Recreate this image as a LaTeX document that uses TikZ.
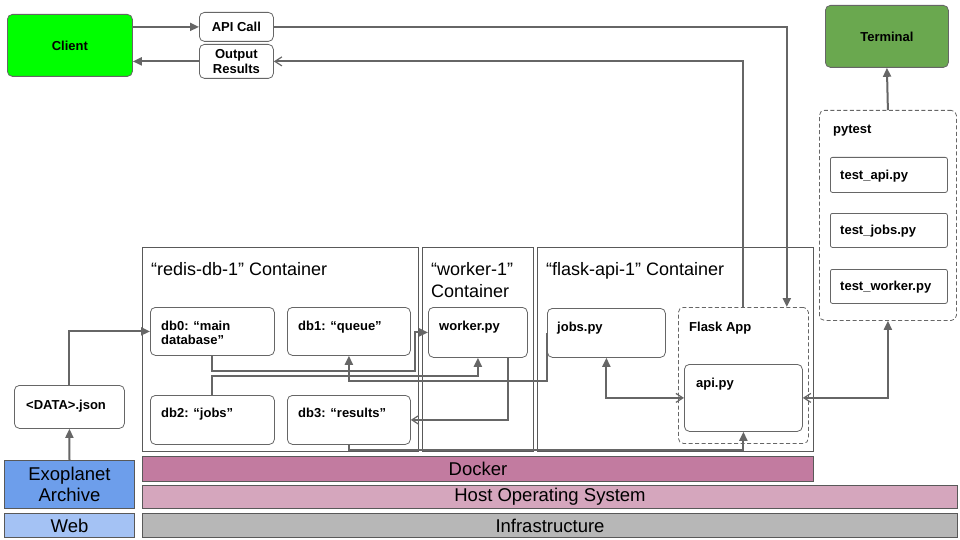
\documentclass[tikz,border=0pt]{standalone}
\usepackage{fontspec}
\setmainfont{Liberation Sans}
\usetikzlibrary{arrows.meta,calc}
\definecolor{ln}{HTML}{666666}
\definecolor{bd}{HTML}{595959}
\definecolor{clientgreen}{HTML}{00FF00}
\definecolor{termgreen}{HTML}{6AA84F}
\definecolor{exoblue}{HTML}{6D9EEB}
\definecolor{webblue}{HTML}{A4C2F4}
\definecolor{dockerpink}{HTML}{C27BA0}
\definecolor{hostpink}{HTML}{D5A6BD}
\definecolor{infragray}{HTML}{B7B7B7}
\begin{document}
\begin{tikzpicture}[x=1pt,y=-1pt,
  box/.style={draw=ln, line width=0.8pt, rounded corners=5pt, fill=white, inner sep=0pt, anchor=north west},
  dbox/.style={box, dash pattern=on 4pt off 2.5pt},
  cont/.style={draw=bd, line width=0.8pt, inner sep=0pt, anchor=north west},
  layer/.style={draw=bd, line width=1pt, inner sep=0pt, anchor=north west, align=center, font=\fontsize{18.5}{21}\selectfont},
  bt/.style={font=\bfseries\fontsize{13}{15.5}\selectfont, align=center},
  lbl/.style={font=\bfseries\fontsize{13}{14}\selectfont, inner sep=0pt, anchor=base west},
  ttl/.style={font=\fontsize{18}{22}\selectfont, inner sep=0pt, anchor=base west},
  con/.style={draw=ln, line width=2pt},
  fa/.style={-{Triangle[length=9pt,width=8pt]}},
  oa/.style={-{Straight Barb[length=7pt,width=9pt,line width=1.2pt]}}
]
\useasboundingbox (0,0) rectangle (960,540);

% top row
\node[box, fill=clientgreen, minimum width=125pt, minimum height=62pt, bt] (client) at (7,14) {};
\node[bt, inner sep=0pt] (clientt) at (client.center) {Client};
\node[box, minimum width=74pt, minimum height=29pt] (api) at (199,12) {};
\node[bt, inner sep=0pt] (apit) at (api.center) {API Call};
\node[box, minimum width=74pt, minimum height=34pt] (out) at (199,44) {};
\node[bt, inner sep=0pt] (outt) at (out.center) {Output\\Results};
\node[box, fill=termgreen, minimum width=123pt, minimum height=62pt] (term) at (825,5) {};
\node[bt, inner sep=0pt] (termt) at (term.center) {Terminal};

% pytest
\node[dbox, minimum width=137pt, minimum height=210pt] (pytest) at (819,110) {};
\node[lbl] (pytestt) at (833,134) {pytest};
\node[box, rounded corners=2pt, minimum width=117pt, minimum height=35pt] (tapi) at (830,157) {};
\node[lbl] (tapit) at (840,179) {test\_api.py};
\node[box, rounded corners=2pt, minimum width=117pt, minimum height=34pt] (tjobs) at (830,213) {};
\node[lbl] (tjobst) at (840,234.5) {test\_jobs.py};
\node[box, rounded corners=2pt, minimum width=117pt, minimum height=34pt] (twork) at (830,269) {};
\node[lbl] (tworkt) at (840,290.5) {test\_worker.py};

% containers
\node[cont, minimum width=276pt, minimum height=204pt] (redis) at (142,247) {};
\node[ttl] (redist) at (151,275) {“redis-db-1” Container};
\node[cont, minimum width=111pt, minimum height=204pt] (workc) at (422,247) {};
\node[font=\fontsize{18}{22}\selectfont, inner sep=0pt, anchor=north west, align=left] (workct) at (431,262) {“worker-1”\\Container};
\node[cont, minimum width=276pt, minimum height=204pt] (flaskc) at (537,247) {};
\node[ttl] (flaskct) at (546,275) {“flask-api-1” Container};

% redis dbs
\node[box, minimum width=124pt, minimum height=48pt] (db0) at (150,307) {};
\node[font=\bfseries\fontsize{13}{14}\selectfont, inner sep=0pt, anchor=north west, align=left] (db0t) at (161,320.5) {db0: “main\\database”};
\node[box, minimum width=123pt, minimum height=48pt] (db1) at (287,307) {};
\node[lbl] (db1t) at (298,330) {db1: “queue”};
\node[box, minimum width=124pt, minimum height=49pt] (db2) at (150,395) {};
\node[lbl] (db2t) at (161,417) {db2: “jobs”};
\node[box, minimum width=123pt, minimum height=49pt] (db3) at (287,395) {};
\node[lbl] (db3t) at (298,417) {db3: “results”};

% worker
\node[box, minimum width=99pt, minimum height=50pt] (worker) at (428,307) {};
\node[lbl] (workert) at (439,330) {worker.py};

% flask
\node[box, minimum width=118pt, minimum height=49pt] (jobs) at (547,308) {};
\node[lbl] (jobst) at (557,331) {jobs.py};
\node[dbox, minimum width=130pt, minimum height=136pt] (flask) at (678,307) {};
\node[lbl] (flaskt) at (689,331) {Flask App};
\node[box, minimum width=118pt, minimum height=67pt] (apipy) at (684,364) {};
\node[lbl] (apipyt) at (696,387) {api.py};

% data
\node[box, minimum width=110pt, minimum height=43pt] (data) at (14,385) {};
\node[lbl] (datat) at (26,409) {<DATA>.json};

% layers
\node[layer, fill=exoblue, minimum width=130pt, minimum height=48pt] (exo) at (4,460) {};
\node[font=\fontsize{18.5}{21}\selectfont, align=center, inner sep=0pt] (exot) at (exo.center) {Exoplanet\\Archive};
\node[layer, fill=webblue, minimum width=130pt, minimum height=24pt] (web) at (4,513) {};
\node[font=\fontsize{18.5}{21}\selectfont, inner sep=0pt] (webt) at (web.center) {Web};
\node[layer, fill=dockerpink, minimum width=671pt, minimum height=25pt] (docker) at (142,456) {};
\node[font=\fontsize{18.5}{21}\selectfont, inner sep=0pt] (dockert) at (docker.center) {Docker};
\node[layer, fill=hostpink, minimum width=815pt, minimum height=23pt] (host) at (142,485) {};
\node[font=\fontsize{18.5}{21}\selectfont, inner sep=0pt] (hostt) at (host.center) {Host Operating System};
\node[layer, fill=infragray, minimum width=815pt, minimum height=24pt] (infra) at (142,513) {};
\node[font=\fontsize{18.5}{21}\selectfont, inner sep=0pt] (infrat) at (infra.center) {Infrastructure};

% connectors
\draw[con, fa] (client.east |- api.west) -- (api.west);
\draw[con, fa] (out.west) -- (client.east |- out.west);
\draw[con, fa] (api.east) -| ($(flask.north east)+(-22,0)$);
\draw[con, oa] (flask.north) |- (out.east);
\draw[con, fa] (pytest.north) -- (term.south);
\draw[con, {Straight Barb[length=7pt,width=9pt,line width=1.2pt]}-{Triangle[length=9pt,width=8pt]}] (apipy.east) -| (pytest.south);
\draw[con, fa] (exo.north) -- (data.south);
\draw[con, fa] (data.north) |- (db0.west);
\draw[con, fa] (db0.south) -- ++(0,15) -- ++(203,0) |- (worker.west);
\draw[con, fa] (db2.north) -- ++(0,-19) -| (worker.south);
\draw[con, fa] (jobs.west) -- ++(0,48) -| (db1.south);
\draw[con, oa] ([xshift=30pt]worker.south) |- (db3.east);
\draw[con, fa] (db3.south) -- ++(0,5) -| (apipy.south);
\draw[con, {Triangle[length=9pt,width=8pt]}-{Straight Barb[length=7pt,width=9pt,line width=1.2pt]}] (jobs.south) |- (apipy.west);
\end{tikzpicture}
\end{document}
